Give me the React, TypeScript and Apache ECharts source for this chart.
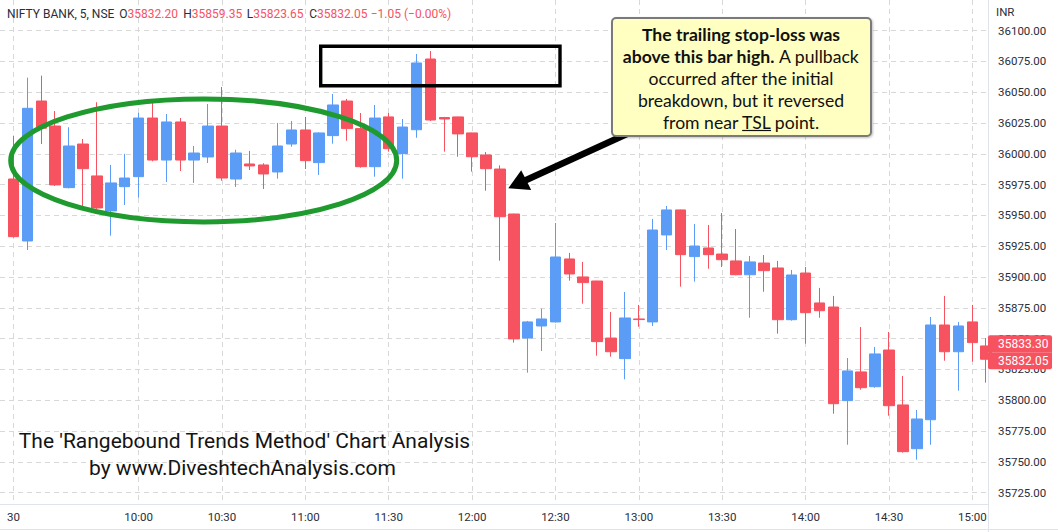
import React, { useEffect, useRef } from 'react';
import * as echarts from 'echarts';

// 5-minute bars, NIFTY BANK, 09:15 .. 15:05
const opens = [
  35979.6, 35929.3, 36042.9, 36022.6, 35972.6, 36008.0, 35982.1, 35953.7, 35973.4, 35981.5,
  36029.1, 35995.0, 36025.9, 35995.0, 35997.5, 36022.6, 35979.6, 35991.8, 35991.0, 35985.3,
  36008.0, 36019.4, 35992.9, 36014.8, 36042.9, 36020.5, 35989.6, 36030.0, 36000.2, 36019.6,
  36077.0, 36029.5, 36030.0, 36017.0, 35999.1, 35987.7, 35951.2, 35850.5, 35860.3, 35863.6,
  35914.7, 35900.1, 35896.8, 35850.5, 35833.8, 35866.0, 35863.6, 35934.2, 35954.5, 35916.6,
  35923.6, 35918.7, 35913.1, 35901.9, 35911.4, 35907.4, 35865.4, 35903.3, 35879.0, 35875.7,
  35799.7, 35823.0, 35811.0, 35840.8, 35796.2, 35760.7, 35784.2, 35861.1, 35839.4, 35863.6,
  35844.1,
];
const closes = [
  35932.8, 36037.0, 36020.8, 35974.8, 36006.4, 35988.0, 35956.1, 35976.4, 35980.4, 36029.1,
  35995.0, 36025.9, 35995.0, 36000.7, 36022.6, 35980.4, 36000.7, 35990.2, 35983.7, 36006.4,
  36019.4, 35994.5, 36017.0, 36039.7, 36020.5, 35989.6, 36029.1, 36004.2, 36021.8, 36073.8,
  36027.5, 36028.3, 36016.2, 35997.7, 35988.0, 35949.0, 35849.8, 35863.6, 35866.0, 35916.3,
  35902.5, 35895.5, 35847.6, 35839.4, 35866.8, 35865.5, 35938.2, 35954.5, 35918.2, 35925.2,
  35918.2, 35914.1, 35901.9, 35912.3, 35905.2, 35865.4, 35901.7, 35871.1, 35872.7, 35797.2,
  35823.8, 35810.2, 35837.6, 35795.6, 35758.3, 35784.8, 35861.1, 35839.4, 35860.3, 35846.8,
  35833.3,
];
const lows = [
  35932.0, 35922.0, 36008.0, 35974.0, 35972.0, 35957.1, 35955.3, 35933.6, 35958.5, 35964.4,
  35994.0, 35977.2, 35986.1, 35976.4, 35992.6, 35978.2, 35973.1, 35986.9, 35971.5, 35979.9,
  36005.8, 35987.7, 35982.9, 36008.3, 36010.7, 35988.8, 35981.5, 36001.8, 35979.9, 36013.1,
  36026.7, 36001.8, 35997.7, 35985.6, 35970.1, 35913.3, 35846.8, 35822.4, 35840.0, 35863.0,
  35897.1, 35878.4, 35836.2, 35835.4, 35817.0, 35859.7, 35860.3, 35922.0, 35892.2, 35896.3,
  35906.8, 35908.2, 35901.5, 35867.0, 35888.1, 35854.1, 35864.6, 35845.9, 35867.0, 35789.1,
  35763.9, 35808.6, 35810.2, 35787.5, 35757.5, 35751.8, 35763.9, 35832.1, 35807.8, 35831.3,
  35814.3,
];
const highs = [
  36014.5, 36061.9, 36063.5, 36034.8, 36021.6, 36012.1, 36041.9, 35991.0, 36000.0, 36033.4,
  36041.6, 36032.4, 36029.1, 36006.4, 36040.5, 36054.3, 36003.4, 36002.4, 35992.4, 36025.1,
  36026.7, 36030.0, 36017.5, 36048.6, 36044.6, 36033.2, 36039.7, 36033.2, 36028.3, 36081.1,
  36083.5, 36030.0, 36030.2, 36017.2, 36001.5, 35990.7, 35951.4, 35864.4, 35874.3, 35943.9,
  35919.6, 35912.3, 35897.0, 35871.7, 35887.9, 35877.4, 35947.2, 35957.7, 35954.7, 35943.1,
  35942.3, 35952.0, 35939.0, 35917.1, 35917.9, 35913.1, 35905.8, 35908.2, 35891.2, 35884.7,
  35834.3, 35859.5, 35843.3, 35855.4, 35819.7, 35792.1, 35867.6, 35884.7, 35863.6, 35877.4,
  35850.5,
];

const timeTickIndex = [0, 9, 15, 21, 27, 33, 39, 45, 51, 57, 63, 69];
const timeTickLabels = ['30', '10:00', '10:30', '11:00', '11:30', '12:00', '12:30', '13:00', '13:30', '14:00', '14:30', '15:00'];
const priceTicks = [
  35725, 35750, 35775, 35800, 35825, 35850, 35875, 35900,
  35925, 35950, 35975, 36000, 36025, 36050, 36075, 36100,
];
const lastPriceLabels = [35833.3, 35832.05];
const headerValues = { O: '35832.20', H: '35859.35', L: '35823.65', C: '35832.05', chg: '\u22121.05 (\u22120.00%)' };

const RED = '#f7525f';
const BLUE = '#5b9cf6';
const TXT = '#2a2e39';
const GRIDC = '#d8d8d8';
const FONT = 'Roboto';
const NOTE_FONT = 'Lato';
const NOTE_SIZE = 17.6;

function measure(text: string, font: string): number {
  const c = document.createElement('canvas').getContext('2d');
  if (!c) return text.length * 7;
  c.font = font;
  return c.measureText(text).width;
}

const App = () => {
  const ref = useRef<HTMLDivElement>(null);
  useEffect(() => {
    document.body.style.margin = '0';
    const chart = echarts.init(ref.current!, null, { renderer: 'svg' });
    const data = opens.map((o, i) => [i, o, closes[i], lows[i], highs[i]]);
    chart.setOption({
      animation: false,
      backgroundColor: '#ffffff',
      grid: { left: 0, right: 70, top: 0, bottom: 28, containLabel: false },
      xAxis: {
        type: 'value',
        min: -0.9715,
        max: 70.127,
        axisLine: { show: true, onZero: false, lineStyle: { color: '#e0e3eb', width: 1 } },
        axisTick: { show: false, customValues: timeTickIndex },
        axisLabel: {
          customValues: timeTickIndex,
          formatter: (v: number) => timeTickLabels[timeTickIndex.indexOf(Math.round(v))] ?? '',
          color: TXT,
          fontFamily: FONT,
          fontSize: 11.5,
          margin: 7,
        },
        splitLine: { show: true, lineStyle: { color: GRIDC, type: [5, 4], width: 1 } },
      },
      yAxis: {
        type: 'value',
        position: 'right',
        min: 35715.8,
        max: 36124.9,
        scale: true,
        axisLine: { show: false },
        axisTick: { show: false, customValues: priceTicks },
        axisLabel: {
          customValues: priceTicks,
          formatter: (v: number) => v.toFixed(2),
          color: TXT,
          fontFamily: FONT,
          fontSize: 11.5,
          margin: 10,
        },
        splitLine: { show: true, lineStyle: { color: GRIDC, type: [5, 4], width: 1 } },
      },
      series: [
        {
          type: 'candlestick',
          data,
          barWidth: 11,
          clip: true,
          itemStyle: {
            color: BLUE,
            color0: RED,
            borderColor: BLUE,
            borderColor0: RED,
            borderWidth: 1,
          },
        },
      ],
    });

    const yClose = chart.convertToPixel({ yAxisIndex: 0 }, lastPriceLabels[1]) as number;
    const boxH = 17;
    const noteFont = `${NOTE_SIZE}px ${NOTE_FONT}`;
    const line5 = 'from near TSL point.';
    const l5w = measure(line5, noteFont);
    const noteCx = 741;
    const l5start = noteCx - l5w / 2;
    const tslStart = l5start + measure('from near ', noteFont);
    const tslW = measure('TSL', noteFont);

    const headerPieces: any[] = [
      { type: 'text', x: 7, y: 14, z: 100, style: { text: 'NIFTY BANK, 5, NSE', fill: TXT, fontFamily: FONT, fontSize: 12, verticalAlign: 'middle' } },
    ];
    const hx: Record<string, number> = { O: 119.3, H: 183.3, L: 246.7, C: 309.3 };
    (['O', 'H', 'L', 'C'] as const).forEach((k) => {
      headerPieces.push({
        type: 'text', x: hx[k], y: 14, z: 100,
        style: {
          text: `{k|${k}}{v|${(headerValues as any)[k]}}`,
          verticalAlign: 'middle',
          rich: {
            k: { fill: TXT, fontFamily: FONT, fontSize: 12 },
            v: { fill: RED, fontFamily: FONT, fontSize: 12 },
          },
        },
      });
    });
    headerPieces.push({ type: 'text', x: 370.7, y: 14, z: 100, style: { text: headerValues.chg, fill: RED, fontFamily: FONT, fontSize: 12, verticalAlign: 'middle' } });

    const noteLines = [
      { y: 34, text: '{b|The trailing stop-loss was}' },
      { y: 56, text: '{b|above this bar high.}{n| A pullback}' },
      { y: 78, text: '{n|occurred after the initial}' },
      { y: 100, text: '{n|breakdown, but it reversed}' },
      { y: 122, text: '{n|from near TSL point.}' },
    ];
    const richNote = {
      b: { fill: '#111111', fontFamily: NOTE_FONT, fontSize: NOTE_SIZE, fontWeight: 'bold' },
      n: { fill: '#111111', fontFamily: NOTE_FONT, fontSize: NOTE_SIZE },
    };

    chart.setOption({
      graphic: [
        // axis area separators
        { type: 'line', z: 90, shape: { x1: 988.5, y1: 0, x2: 988.5, y2: 532 }, style: { stroke: '#e0e3eb', lineWidth: 1 } },
        { type: 'line', z: 90, shape: { x1: 0, y1: 529.5, x2: 1058, y2: 529.5 }, style: { stroke: '#e0e3eb', lineWidth: 1 } },
        { type: 'text', x: 996, y: 12, z: 100, style: { text: 'INR', fill: TXT, fontFamily: FONT, fontSize: 11.5, verticalAlign: 'middle' } },
        ...headerPieces,
        // last price labels
        { type: 'rect', z: 110, shape: { x: 988, y: yClose - boxH / 2 - boxH, width: 64, height: boxH, r: [2, 2, 0, 0] }, style: { fill: RED } },
        { type: 'rect', z: 110, shape: { x: 988, y: yClose - boxH / 2, width: 64, height: boxH, r: [0, 0, 2, 2] }, style: { fill: RED } },
        { type: 'text', x: 998, y: yClose - boxH, z: 111, style: { text: lastPriceLabels[0].toFixed(2), fill: '#ffffff', fontFamily: FONT, fontSize: 12, verticalAlign: 'middle' } },
        { type: 'text', x: 998, y: yClose, z: 111, style: { text: lastPriceLabels[1].toFixed(2), fill: '#ffffff', fontFamily: FONT, fontSize: 12, verticalAlign: 'middle' } },
        // green ellipse
        { type: 'ellipse', z: 100, shape: { cx: 203.7, cy: 160.4, rx: 193, ry: 61.5 }, style: { fill: 'none', stroke: '#1f9a2e', lineWidth: 5 } },
        // black rectangle
        { type: 'rect', z: 100, shape: { x: 320.7, y: 46.2, width: 239.3, height: 39.6 }, style: { fill: 'none', stroke: '#000000', lineWidth: 3.4 } },
        // arrow
        { type: 'line', z: 100, shape: { x1: 524, y1: 181, x2: 640, y2: 128 }, style: { stroke: '#000000', lineWidth: 6.5 } },
        { type: 'polygon', z: 100, shape: { points: [[508.3, 188.3], [521.2, 170.2], [531.2, 190.0]] }, style: { fill: '#000000' } },
        // note box
        { type: 'rect', z: 105, shape: { x: 612, y: 18, width: 259, height: 118, r: 4 }, style: { fill: '#ffffc1', stroke: '#7a7a7a', lineWidth: 2, shadowBlur: 2, shadowColor: 'rgba(0,0,0,0.25)', shadowOffsetX: 1, shadowOffsetY: 1 } },
        ...noteLines.map((l) => ({
          type: 'text', x: noteCx, y: l.y, z: 106,
          style: { text: l.text, align: 'center', verticalAlign: 'middle', rich: richNote },
        })),
        { type: 'line', z: 106, shape: { x1: tslStart, y1: 130.5, x2: tslStart + tslW, y2: 130.5 }, style: { stroke: '#111111', lineWidth: 1.2 } },
        // bottom-left caption
        { type: 'text', x: 244.5, y: 441, z: 100, style: { text: "The 'Rangebound Trends Method' Chart Analysis", fill: '#141414', fontFamily: FONT, fontSize: 21, align: 'center', verticalAlign: 'middle' } },
        { type: 'text', x: 242.5, y: 468, z: 100, style: { text: 'by www.DiveshtechAnalysis.com', fill: '#141414', fontFamily: FONT, fontSize: 21, align: 'center', verticalAlign: 'middle' } },
      ],
    });

    return () => chart.dispose();
  }, []);
  return <div ref={ref} style={{ position: 'fixed', left: 0, top: 0, width: 1058, height: 532 }} />;
};

export default App;
